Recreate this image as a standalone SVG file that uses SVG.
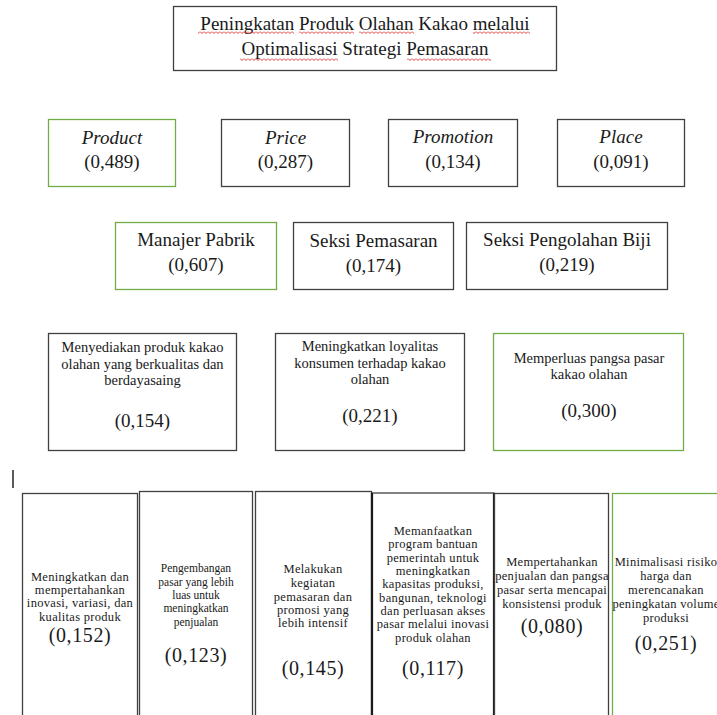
<svg xmlns="http://www.w3.org/2000/svg" width="717" height="715" viewBox="0 0 717 715">
<style>
.bx{fill:#fff;stroke:#404040;stroke-width:1.3}
.gr{fill:#fff;stroke:#70ad47;stroke-width:1.3}
.thick{fill:none;stroke:#1a1a1a;stroke-width:2.2}
text{font-family:"Liberation Serif","Times New Roman",serif;fill:#1a1a1a;text-anchor:middle}
.t19{font-size:19px}
.it{font-style:italic}
.t14{font-size:14.5px}
.t12{font-size:12.5px;letter-spacing:0.3px}
.t11{font-size:11.5px}
.v20{font-size:20px;letter-spacing:0.6px}
</style>
<defs>
<pattern id="sq" x="0" y="1" width="4" height="3" patternUnits="userSpaceOnUse">
<path d="M0,0.5 L2,2.5 L4,0.5" fill="none" stroke="#e02020" stroke-width="0.9"/>
</pattern>
</defs>
<rect width="717" height="715" fill="#fff"/>

<g id="connectors"></g>

<g id="title">
<rect class="bx" x="173.5" y="6.5" width="383" height="64"/>
<text class="t19" x="365" y="30">Peningkatan Produk Olahan Kakao melalui</text>
<text class="t19" x="365" y="55">Optimalisasi Strategi Pemasaran</text>
<rect x="198" y="31" width="96" height="3" fill="url(#sq)"/>
<rect x="299" y="31" width="55" height="3" fill="url(#sq)"/>
<rect x="359" y="31" width="55" height="3" fill="url(#sq)"/>
<rect x="473" y="31" width="57" height="3" fill="url(#sq)"/>
<rect x="240" y="58" width="98" height="3" fill="url(#sq)"/>
<rect x="407" y="58" width="84" height="3" fill="url(#sq)"/>
</g>

<g id="product">
<rect class="gr" x="48.5" y="119.5" width="127" height="67"/>
<text class="t19 it" x="112" y="144">Product</text>
<text class="t19" x="112" y="168">(0,489)</text>
</g>
<g id="price">
<rect class="bx" x="221.5" y="119.5" width="128" height="67"/>
<text class="t19 it" x="285.5" y="144">Price</text>
<text class="t19" x="285.5" y="168">(0,287)</text>
</g>
<g id="promotion">
<rect class="bx" x="388.5" y="119.5" width="129" height="67"/>
<text class="t19 it" x="453" y="143">Promotion</text>
<text class="t19" x="453" y="168">(0,134)</text>
</g>
<g id="place">
<rect class="bx" x="557.5" y="119.5" width="127" height="67"/>
<text class="t19 it" x="621" y="143">Place</text>
<text class="t19" x="621" y="168">(0,091)</text>
</g>

<g id="manajer-pabrik">
<rect class="gr" x="115.5" y="222.5" width="161" height="67"/>
<text class="t19" x="196" y="246">Manajer Pabrik</text>
<text class="t19" x="196" y="271">(0,607)</text>
</g>
<g id="seksi-pemasaran">
<rect class="bx" x="293.5" y="222.5" width="160" height="67"/>
<text class="t19" x="373.5" y="247">Seksi Pemasaran</text>
<text class="t19" x="373.5" y="272">(0,174)</text>
</g>
<g id="seksi-pengolahan">
<rect class="bx" x="466.5" y="222.5" width="201" height="67"/>
<text class="t19" x="567" y="246">Seksi Pengolahan Biji</text>
<text class="t19" x="567" y="271">(0,219)</text>
</g>

<g id="menyediakan">
<rect class="bx" x="48.5" y="333.5" width="188" height="117"/>
<text class="t14" x="142.5" y="352">Menyediakan produk kakao</text>
<text class="t14" x="142.5" y="369">olahan yang berkualitas dan</text>
<text class="t14" x="142.5" y="385">berdayasaing</text>
<text class="t19" x="142.5" y="427">(0,154)</text>
</g>
<g id="loyalitas">
<rect class="bx" x="275.5" y="333.5" width="189" height="117"/>
<text class="t14" x="370" y="351">Meningkatkan loyalitas</text>
<text class="t14" x="370" y="368">konsumen terhadap kakao</text>
<text class="t14" x="370" y="384">olahan</text>
<text class="t19" x="370" y="422">(0,221)</text>
</g>
<g id="memperluas">
<rect class="gr" x="493.5" y="333.5" width="190" height="117"/>
<text class="t14" x="589" y="363">Memperluas pangsa pasar</text>
<text class="t14" x="589" y="379">kakao olahan</text>
<text class="t19" x="589" y="417">(0,300)</text>
</g>

<line x1="13" y1="470" x2="13" y2="488" stroke="#333" stroke-width="1.6"/>

<g id="inovasi">
<rect class="bx" x="22.5" y="493.5" width="115" height="230"/>
<text class="t12" x="80" y="581">Meningkatkan dan</text>
<text class="t12" x="80" y="594">mempertahankan</text>
<text class="t12" x="80" y="607">inovasi, variasi, dan</text>
<text class="t12" x="80" y="621">kualitas produk</text>
<text class="v20" x="80" y="642">(0,152)</text>
</g>
<g id="pengembangan">
<rect class="bx" x="139.5" y="491.5" width="113" height="230"/>
<text class="t11" x="196" y="572">Pengembangan</text>
<text class="t11" x="196" y="586">pasar yang lebih</text>
<text class="t11" x="196" y="599">luas untuk</text>
<text class="t11" x="196" y="612">meningkatkan</text>
<text class="t11" x="196" y="626">penjualan</text>
<text class="v20" x="196" y="662">(0,123)</text>
</g>
<g id="melakukan">
<rect class="bx" x="255.5" y="491.5" width="116" height="230"/>
<text class="t12" x="313" y="573">Melakukan</text>
<text class="t12" x="313" y="587">kegiatan</text>
<text class="t12" x="313" y="601">pemasaran dan</text>
<text class="t12" x="313" y="614">promosi yang</text>
<text class="t12" x="313" y="627">lebih intensif</text>
<text class="v20" x="313" y="675">(0,145)</text>
</g>
<g id="memanfaatkan">
<rect class="bx" x="372" y="493" width="122" height="230"/>
<path class="thick" d="M372,493 V715 M494,493 V715"/>
<text class="t12" x="433" y="535">Memanfaatkan</text>
<text class="t12" x="433" y="548">program bantuan</text>
<text class="t12" x="433" y="562">pemerintah untuk</text>
<text class="t12" x="433" y="575">meningkatkan</text>
<text class="t12" x="433" y="588">kapasitas produksi,</text>
<text class="t12" x="433" y="602">bangunan, teknologi</text>
<text class="t12" x="433" y="615">dan perluasan akses</text>
<text class="t12" x="433" y="628">pasar melalui inovasi</text>
<text class="t12" x="433" y="642">produk olahan</text>
<text class="v20" x="433" y="675">(0,117)</text>
</g>
<g id="mempertahankan">
<rect class="bx" x="494.5" y="493.5" width="114" height="230"/>
<text class="t12" x="552" y="566">Mempertahankan</text>
<text class="t12" x="552" y="580">penjualan dan pangsa</text>
<text class="t12" x="552" y="594">pasar serta mencapai</text>
<text class="t12" x="552" y="608">konsistensi produk</text>
<text class="v20" x="552" y="633">(0,080)</text>
</g>
<g id="minimalisasi">
<rect class="gr" x="612.5" y="493.5" width="115" height="230"/>
<text class="t12" x="666" y="566">Minimalisasi risiko</text>
<text class="t12" x="666" y="580">harga dan</text>
<text class="t12" x="666" y="594">merencanakan</text>
<text class="t12" x="666" y="608">peningkatan volume</text>
<text class="t12" x="666" y="622">produksi</text>
<text class="v20" x="666" y="650">(0,251)</text>
</g>
</svg>
